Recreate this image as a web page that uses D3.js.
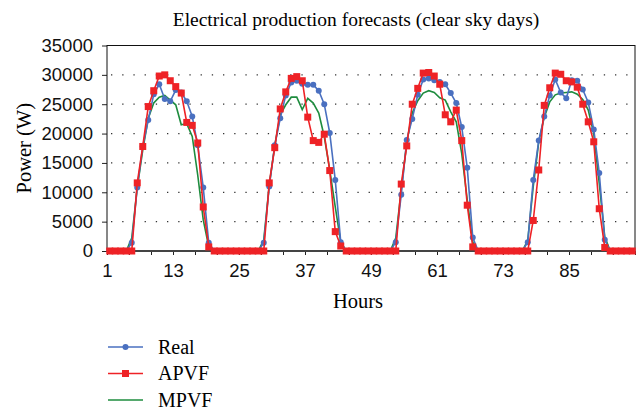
<!DOCTYPE html>
<html>
<head>
<meta charset="utf-8">
<script src="https://cdn.jsdelivr.net/npm/d3@7"></script>
<style>
  body { margin: 0; background: #fff; }
  svg { font-family: "Liberation Serif", "DejaVu Serif", serif; }
  .axis text { font-size: 18.5px; fill: #111; }
  .axis line { stroke: #222; }
</style>
</head>
<body>
<div class="chart"></div>
<script>
// hourly values, 4 clear-sky days x 24 h
const real = [
	0, 0, 0, 0, 1400, 10800, 17800, 22300, 26700, 28400, 25900, 25500, 27400, 27000, 25500, 22900, 18000, 10800, 1400, 0, 0, 0, 0, 0,
	0, 0, 0, 0, 1400, 11000, 18000, 22600, 26500, 28700, 29000, 28500, 28300, 28300, 27300, 25000, 20100, 12100, 1500, 0, 0, 0, 0, 0,
	0, 0, 0, 0, 1500, 9600, 18900, 22500, 26600, 29200, 29400, 29100, 28800, 28400, 26900, 25200, 21100, 14200, 2300, 0, 0, 0, 0, 0,
	0, 0, 0, 0, 1500, 12100, 18800, 22900, 26500, 29200, 27000, 26000, 29100, 29000, 27500, 25300, 20700, 13300, 1900, 0, 0, 0, 0, 0
];
const apvf = [
	0, 0, 0, 0, 0, 11600, 17800, 24600, 27300, 29800, 30000, 29000, 28000, 26900, 21900, 21400, 18400, 7500, 700, 0, 0, 0, 0, 0,
	0, 0, 0, 0, 0, 11600, 17600, 24200, 27100, 29400, 29700, 29000, 22800, 18800, 18500, 19900, 13700, 3300, 850, 0, 0, 0, 0, 0,
	0, 0, 0, 0, 0, 11400, 17900, 25000, 27700, 30300, 30400, 29800, 28400, 23200, 22000, 24000, 18800, 7800, 700, 0, 0, 0, 0, 0,
	0, 0, 0, 0, 0, 5200, 13800, 24800, 27800, 30300, 30100, 29000, 28800, 27900, 25000, 22000, 18600, 7200, 600, 0, 0, 0, 0, 0
];
const mpvf = [
	0, 0, 0, 0, 2200, 10800, 17200, 22600, 25200, 26200, 26500, 25700, 24900, 21500, 21700, 19500, 12900, 5300, 700, 0, 0, 0, 0, 0,
	0, 0, 0, 0, 1900, 11200, 18000, 23200, 24900, 26200, 26200, 24100, 26000, 25200, 23500, 19500, 13800, 7500, 1500, 0, 0, 0, 0, 0,
	0, 0, 0, 0, 2200, 10400, 18500, 23500, 25600, 26900, 27300, 27000, 26100, 25700, 23700, 22000, 16600, 8700, 1500, 0, 0, 0, 0, 0,
	0, 0, 0, 0, 1800, 11000, 18600, 22800, 25400, 26600, 26900, 27000, 27100, 26700, 25800, 24000, 20000, 11500, 2400, 0, 0, 0, 0, 0
];

const hourLabels = [1, 13, 25, 37, 49, 61, 73, 85];
const powerTicks = [0, 5000, 10000, 15000, 20000, 25000, 30000, 35000];

const series = [
	{name: "Real", values: real, color: "#4a70c0", marker: "circle"},
	{name: "APVF", values: apvf, color: "#ee2226", marker: "square"},
	{name: "MPVF", values: mpvf, color: "#1e8c3e", marker: "none"}
];

const W = 643, H = 410;
const margin = {top: 45.5, right: 8, bottom: 159, left: 107};
const width = W - margin.left - margin.right,
      height = H - margin.top - margin.bottom;

const svg = d3.select(".chart").append("svg")
	.attr("width", W)
	.attr("height", H);

const g = svg.append("g")
	.attr("transform", "translate(" + margin.left + "," + margin.top + ")");

// points sit in the middle of each hour, labels on the boundaries
const x = d3.scaleLinear().domain([0.5, real.length + 0.5]).range([0, width]);
const xTicks = d3.scaleLinear().domain([1, real.length + 1]).range([0, width]);
const y = d3.scaleLinear().domain([0, 35000]).range([height, 0]);

// dotted grid
g.append("g")
	.selectAll("line")
	.data(powerTicks.slice(1, -1))
	.enter().append("line")
	.attr("x1", 4).attr("x2", width)
	.attr("y1", d => y(d)).attr("y2", d => y(d))
	.style("stroke", "#333")
	.style("stroke-width", 1.3)
	.style("stroke-dasharray", "1.3,9.9");

// axe Y
g.append("g")
	.attr("class", "axis")
	.call(d3.axisLeft(y).tickValues(powerTicks).tickSize(5).tickPadding(9).tickFormat(d3.format("d")))
	.call(a => a.select(".domain").remove());

// axe X
g.append("g")
	.attr("class", "axis")
	.attr("transform", "translate(0," + height + ")")
	.call(d3.axisBottom(xTicks).tickValues(d3.range(1, real.length + 2, 4)).tickSize(4).tickPadding(9)
		.tickFormat(d => hourLabels.indexOf(d) >= 0 ? d : ""))
	.call(a => a.select(".domain").remove());

// cadre
g.append("rect")
	.attr("width", width).attr("height", height)
	.style("fill", "none").style("stroke", "#111").style("stroke-width", 1);
g.append("line")
	.attr("x1", 0).attr("x2", width).attr("y1", height).attr("y2", height)
	.style("stroke", "#444").style("stroke-width", 2);

const line = d3.line()
	.x((d, i) => x(i + 1))
	.y(d => y(d));

// MPVF first, then Real, APVF on top
[series[2], series[0], series[1]].forEach(function(s) {
	g.append("path")
		.datum(s.values)
		.attr("d", line)
		.style("fill", "none")
		.style("stroke", s.color)
		.style("stroke-width", 1.6);

	if (s.marker == "circle") {
		g.selectAll(".dot-real")
			.data(s.values)
			.enter().append("circle")
			.attr("cx", (d, i) => x(i + 1))
			.attr("cy", d => y(d))
			.attr("r", 3)
			.style("fill", s.color);
	} else if (s.marker == "square") {
		g.selectAll(".sq-apvf")
			.data(s.values)
			.enter().append("rect")
			.attr("x", (d, i) => x(i + 1) - 3.5)
			.attr("y", d => y(d) - 3.5)
			.attr("width", 7).attr("height", 7)
			.style("fill", s.color);
	}
});

// titre
svg.append("text")
	.attr("x", 356).attr("y", 26)
	.attr("text-anchor", "middle")
	.style("font-size", "19.5px")
	.text("Electrical production forecasts (clear sky days)");

svg.append("text")
	.attr("transform", "translate(31," + (margin.top + y(17500)) + ") rotate(-90)")
	.attr("text-anchor", "middle")
	.style("font-size", "20.5px")
	.text("Power (W)");

svg.append("text")
	.attr("x", 358).attr("y", 308)
	.attr("text-anchor", "middle")
	.style("font-size", "20.5px")
	.text("Hours");

// legende
const legends = svg.selectAll(".legend")
	.data(series)
	.enter().append("g")
	.attr("class", "legend")
	.attr("transform", (d, i) => "translate(108," + (347 + i * 26.5) + ")");

legends.append("line")
	.attr("x1", 0).attr("x2", 35)
	.style("stroke", d => d.color)
	.style("stroke-width", 1.6);

legends.filter(d => d.marker == "circle").append("circle")
	.attr("cx", 17.5).attr("r", 3)
	.style("fill", d => d.color);

legends.filter(d => d.marker == "square").append("rect")
	.attr("x", 14).attr("y", -3.5).attr("width", 7).attr("height", 7)
	.style("fill", d => d.color);

legends.append("text")
	.attr("x", 50).attr("y", 6.5)
	.style("font-size", "20px")
	.text(d => d.name);
</script>
</body>
</html>
